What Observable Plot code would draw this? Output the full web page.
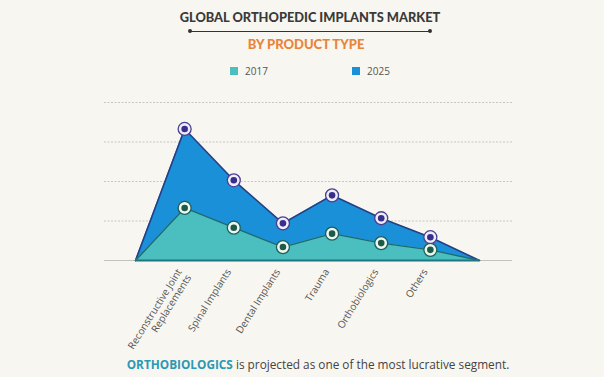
<!DOCTYPE html>
<html>
<head>
<meta charset="utf-8">
<script src="https://cdn.jsdelivr.net/npm/d3@7"></script>
<script src="https://cdn.jsdelivr.net/npm/@observablehq/plot@0.6"></script>
<style>
  html, body { margin: 0; padding: 0; background: #f8f6f0; width: 604px; height: 377px; overflow: hidden; font-family: "Open Sans", sans-serif; }
  #title { position: absolute; left: 8px; width: 604px; top: 9px; text-align: center; font-family: Lato, sans-serif; font-weight: 900; font-size: 12.8px; color: #3a3a3a; }
  #rule { position: absolute; left: 190px; width: 240px; top: 31px; height: 0; border-top: 1.3px solid #333; }
  .dotend { position: absolute; top: 29px; width: 4px; height: 4px; border-radius: 2px; background: #333; }
  #subtitle { position: absolute; left: 4px; width: 604px; top: 36px; text-align: center; font-family: Lato, sans-serif; font-weight: 900; font-size: 13px; color: #e8843a; }
  .leg { position: absolute; top: 64px; font-size: 10px; color: #555; display: flex; align-items: center; }
  .sw { width: 8px; height: 8px; margin-right: 7px; }
  #chart { position: absolute; left: 0; top: 88px; }
  #caption { position: absolute; left: 0; width: 604px; top: 356px; padding-left: 32px; box-sizing: border-box; text-align: center; font-size: 11.8px; color: #444; }
  #caption b { color: #2a98b4; font-weight: 700; }
</style>
</head>
<body>
<div id="title">GLOBAL ORTHOPEDIC IMPLANTS MARKET</div>
<div id="rule"></div>
<div class="dotend" style="left:188px"></div>
<div class="dotend" style="left:428px"></div>
<div id="subtitle">BY PRODUCT TYPE</div>
<div class="leg" style="left:230px"><div class="sw" style="background:#4bbfbf"></div>2017</div>
<div class="leg" style="left:352px"><div class="sw" style="background:#1a90d8"></div>2025</div>
<div id="chart"></div>
<div id="caption"><b>ORTHOBIOLOGICS</b> is projected as one of the most lucrative segment.</div>
<script>
const categories = ["Reconstructive Joint\nReplacements", "Spinal Implants", "Dental Implants", "Trauma", "Orthobiologics", "Others"];
const values2017 = [1.33, 0.83, 0.34, 0.68, 0.44, 0.27];
const values2025 = [3.33, 2.03, 0.94, 1.65, 1.07, 0.59];
const gridTicks = [1, 2, 3, 4];

// series with zero start/end anchors
function series(vals) {
  return [{i: 0, v: 0}, ...vals.map((v, k) => ({i: k + 1, v})), {i: vals.length + 1, v: 0}];
}
const s2017 = series(values2017);
const s2025 = series(values2025);
const pts2017 = values2017.map((v, k) => ({i: k + 1, v}));
const pts2025 = values2025.map((v, k) => ({i: k + 1, v}));
const labels = categories.map((c, k) => ({i: k + 1, c}));

const chart = Plot.plot({
  width: 604,
  height: 262,
  marginLeft: 104,
  marginRight: 92,
  marginTop: 10,
  marginBottom: 90,
  style: {background: "transparent", overflow: "visible"},
  x: {domain: [0, 7], range: [135, 479], axis: null},
  y: {domain: [0, 4], range: [172, 14], axis: null},
  marks: [
    Plot.ruleY(gridTicks, {stroke: "#c9c7c0", strokeDasharray: "2,1.5", strokeWidth: 1}),
    Plot.ruleY([0], {stroke: "#c4c2bc", strokeWidth: 1}),
    Plot.areaY(s2025, {x: "i", y: "v", fill: "#1a90d8"}),
    Plot.lineY(s2025, {x: "i", y: "v", stroke: "#263f86", strokeWidth: 1.6}),
    Plot.areaY(s2017, {x: "i", y: "v", fill: "#4bbfbf"}),
    Plot.lineY(s2017, {x: "i", y: "v", stroke: "#1f6a70", strokeWidth: 1.4}),
    Plot.ruleY([0], {x1: 0, x2: 7, stroke: "#1f7782", strokeWidth: 2}),
    Plot.dot(pts2025, {x: "i", y: "v", r: 6.5, fill: "#eeeef8", stroke: "#4b3e93", strokeWidth: 1.3}),
    Plot.dot(pts2025, {x: "i", y: "v", r: 3.3, fill: "#3a2e8c"}),
    Plot.dot(pts2017, {x: "i", y: "v", r: 6.5, fill: "#eaf7f2", stroke: "#1e5e56", strokeWidth: 1.3}),
    Plot.dot(pts2017, {x: "i", y: "v", r: 3.3, fill: "#1f5a48"}),
    Plot.text(labels, {x: "i", y: () => 0, text: "c", rotate: -58, textAnchor: "end", lineAnchor: "top", dx: -9, dy: 7, fontSize: 10, fill: "#555", fontFamily: "Open Sans", lineHeight: 1.1})
  ]
});
document.getElementById("chart").appendChild(chart);
</script>
</body>
</html>
